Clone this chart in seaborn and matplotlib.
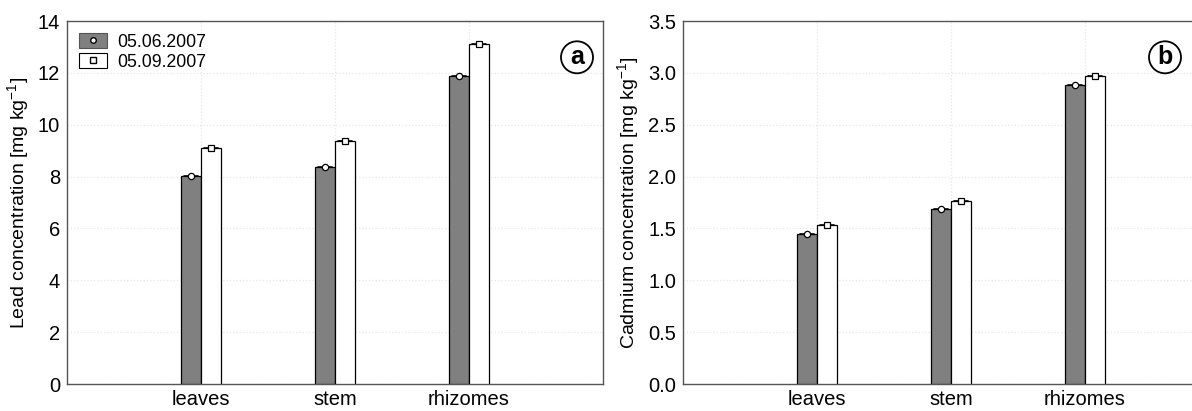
import matplotlib
matplotlib.use("Agg")
import matplotlib.pyplot as plt
import seaborn as sns
import pandas as pd
from matplotlib.patches import Patch
from matplotlib.lines import Line2D
from matplotlib.legend_handler import HandlerTuple

categories = ["leaves", "stem", "rhizomes"]
dates = ["05.06.2007", "05.09.2007"]
lead_june = [8.02, 8.35, 11.87]
lead_sept = [9.12, 9.37, 13.13]
lead_err = [0.06, 0.06, 0.06]
cd_june = [1.45, 1.69, 2.88]
cd_sept = [1.53, 1.76, 2.97]
cd_err = [0.015, 0.015, 0.015]
lead_yticks = [0, 2, 4, 6, 8, 10, 12, 14]
cd_yticks = [0.0, 0.5, 1.0, 1.5, 2.0, 2.5, 3.0, 3.5]

sns.set_style("white")
plt.rcParams["font.family"] = ["Liberation Sans", "DejaVu Sans"]
plt.rcParams["mathtext.default"] = "regular"
plt.rcParams["text.color"] = "black"
plt.rcParams["axes.labelcolor"] = "black"
plt.rcParams["xtick.color"] = "black"
plt.rcParams["ytick.color"] = "black"

fig = plt.figure(figsize=(11.92, 4.11), dpi=100)
W, H = 1192, 411
axA = fig.add_axes([67 / W, 1 - 384 / H, 536 / W, 363 / H])
axB = fig.add_axes([683 / W, 1 - 384 / H, 536 / W, 363 / H])

colors = {dates[0]: "#808080", dates[1]: "#ffffff"}
markers = {dates[0]: "o", dates[1]: "s"}


def panel(ax, june, sept, err, yticks, ylabel, letter, fmt, letter_x):
    df = pd.DataFrame({
        "part": categories * 2,
        "date": [dates[0]] * 3 + [dates[1]] * 3,
        "value": list(june) + list(sept),
    })
    sns.barplot(data=df, x="part", y="value", hue="date", order=categories,
                hue_order=dates, palette=colors, width=0.3, errorbar=None,
                edgecolor="black", linewidth=0.9, ax=ax, legend=False,
                saturation=1, zorder=3)
    for i, d in enumerate(dates):
        cont = ax.containers[i]
        vals = june if i == 0 else sept
        for patch, v, e in zip(cont.patches, vals, err):
            xc = patch.get_x() + patch.get_width() / 2
            ax.errorbar(xc, v, yerr=e, fmt="none", ecolor="black",
                        elinewidth=0.9, capsize=0, zorder=4)
            ax.plot([patch.get_x() + 0.02, patch.get_x() + patch.get_width() - 0.02],
                    [v, v], color="black", lw=1.2, zorder=4)
            ax.plot(xc, v, marker=markers[d], ms=4.5, mfc="white", mec="black",
                    mew=0.9, ls="none", zorder=5)
    ax.set_xlim(-1, 3)
    ax.set_ylim(yticks[0], yticks[-1])
    ax.set_yticks(yticks)
    ax.set_yticklabels([fmt.format(t) for t in yticks])
    ax.set_xlabel("")
    ax.set_ylabel(ylabel, fontsize=14, labelpad=5)
    ax.tick_params(axis="y", labelsize=14.5, length=3, direction="in", pad=5)
    ax.tick_params(axis="x", labelsize=14.5, length=0, pad=4)
    ax.grid(True, color="#e6e6e6", linestyle=":", linewidth=0.9, zorder=0)
    ax.set_axisbelow(True)
    for s in ax.spines.values():
        s.set_color("#555555")
        s.set_linewidth(1.0)
    ax.text(letter_x, 0.9, letter, transform=ax.transAxes, fontsize=18,
            fontweight="bold", ha="center", va="center",
            bbox=dict(boxstyle="circle,pad=0.16", fc="white", ec="black", lw=1.3))


panel(axA, lead_june, lead_sept, lead_err, lead_yticks,
      "Lead concentration [mg kg$^{-1}$]", "a", "{:g}", (577 - 67) / 536)
panel(axB, cd_june, cd_sept, cd_err, cd_yticks,
      "Cadmium concentration [mg kg$^{-1}$]", "b", "{:.1f}", (1165 - 683) / 536)

h1 = (Patch(fc="#808080", ec="#555555", lw=0.8),
      Line2D([], [], marker="o", ms=4, mfc="white", mec="black", ls="none"))
h2 = (Patch(fc="white", ec="black", lw=0.8),
      Line2D([], [], marker="s", ms=4, mfc="white", mec="black", ls="none"))
axA.legend([h1, h2], dates, handler_map={tuple: HandlerTuple(ndivide=1)},
           loc="upper left", frameon=False, fontsize=12.7, handlelength=1.55,
           handleheight=0.9, handletextpad=0.6, labelspacing=0.15,
           borderaxespad=0.3, bbox_to_anchor=(0.0, 1.0))

fig.savefig("out.png", dpi=100)
